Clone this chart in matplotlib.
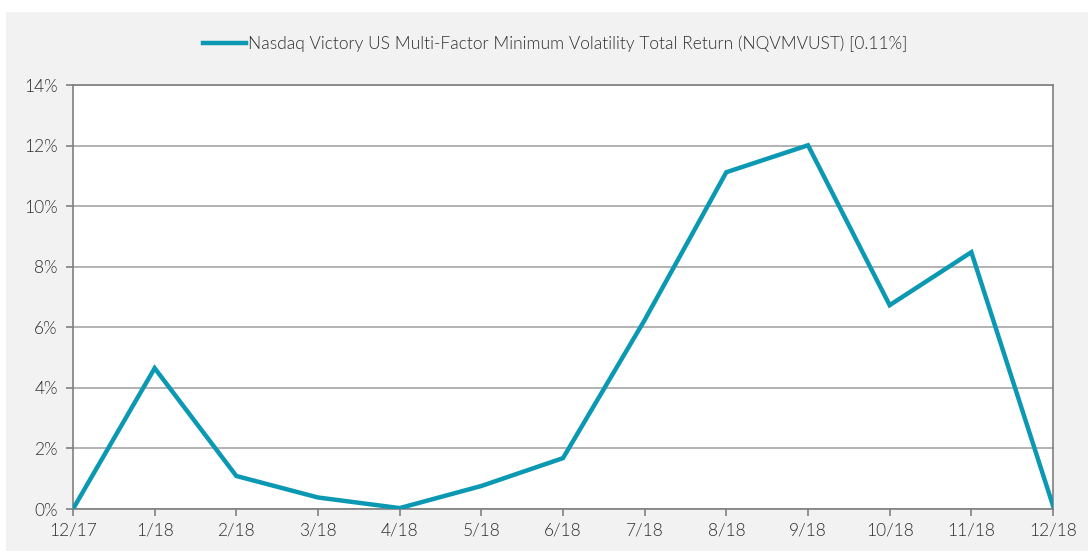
import matplotlib.pyplot as plt
from matplotlib.patches import Rectangle
from matplotlib.ticker import FuncFormatter

# ----------------------------
# Data
# ----------------------------
months = ["12/17", "1/18", "2/18", "3/18", "4/18", "5/18", "6/18",
          "7/18", "8/18", "9/18", "10/18", "11/18", "12/18"]
returns = [0.0, 4.65, 1.09, 0.38, 0.03, 0.76, 1.68,
           6.24, 11.12, 12.01, 6.73, 8.48, 0.11]
label = "Nasdaq Victory US Multi-Factor Minimum Volatility Total Return (NQVMVUST) [0.11%]"

line_color = "#0a98b3"
grid_color = "#a6a6a6"
spine_color = "#7f7f7f"
text_color = "#303030"

plt.rcParams['font.family'] = ['Lato', 'DejaVu Sans']
plt.rcParams['font.weight'] = 300

fig = plt.figure(figsize=(10.88, 5.51), dpi=100, facecolor="#f2f2f2")
# white strips at the top and left edge of the picture
fig.patches.append(Rectangle((0, 1 - 12 / 551), 1, 12 / 551,
                             transform=fig.transFigure, facecolor="white",
                             edgecolor="none"))
fig.patches.append(Rectangle((0, 0), 6 / 1088, 1,
                             transform=fig.transFigure, facecolor="white",
                             edgecolor="none"))

ax = fig.add_axes([73 / 1088, 42 / 551, 980 / 1088, 424 / 551])
ax.set_facecolor("white")

x = list(range(len(months)))
ax.plot(x, returns, color=line_color, lw=3.2, label=label,
        solid_joinstyle="miter", zorder=3)

ax.set_xlim(0, len(months) - 1)
ax.set_ylim(0, 14)
ax.set_xticks(x)
ax.set_xticklabels(months)
ax.set_yticks(range(0, 15, 2))
ax.yaxis.set_major_formatter(FuncFormatter(lambda v, p: f"{v:.0f}%"))

ax.grid(axis="y", color=grid_color, lw=1.2)
ax.set_axisbelow(True)
for s in ax.spines.values():
    s.set_color(spine_color)
    s.set_linewidth(1.2)

ax.tick_params(axis="both", direction="out", length=5, width=1.2,
               color=spine_color, labelsize=12.5, labelcolor=text_color)
ax.tick_params(axis="x", pad=5)
ax.tick_params(axis="y", pad=6)

leg = fig.legend(loc="center", bbox_to_anchor=(555 / 1088, 1 - 44 / 551),
                 frameon=False, fontsize=12.5, handlelength=2.5,
                 handletextpad=0.1)
for t in leg.get_texts():
    t.set_color(text_color)

fig.savefig("out.png", dpi=100, facecolor=fig.get_facecolor())
